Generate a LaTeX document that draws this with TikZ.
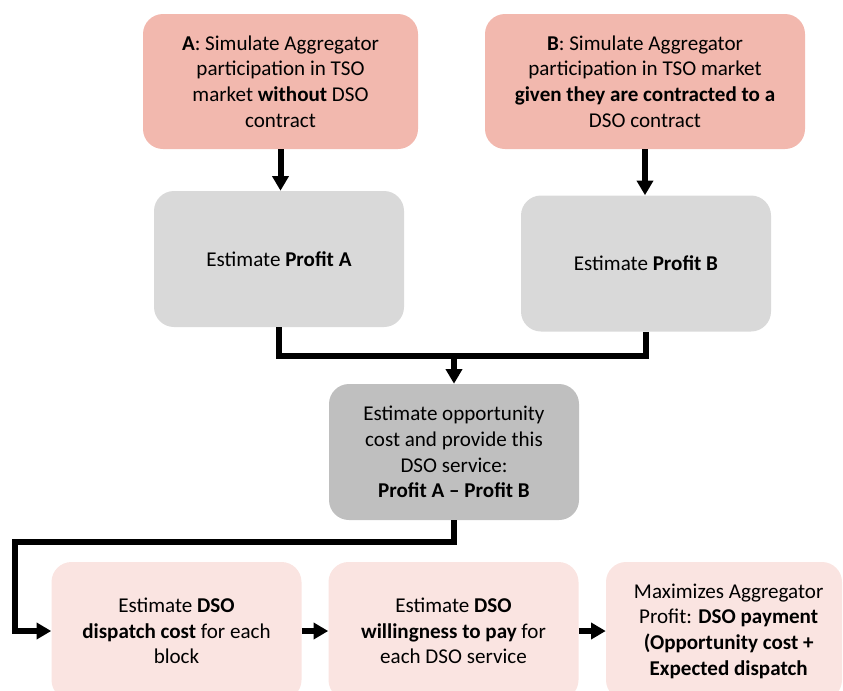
\documentclass[tikz,border=0pt]{standalone}
\usepackage{fontspec}
\setmainfont{Carlito}
\usetikzlibrary{arrows.meta}

\definecolor{salmon}{RGB}{242,184,174}
\definecolor{lightgrey}{RGB}{217,217,217}
\definecolor{midgrey}{RGB}{191,191,191}
\definecolor{blush}{RGB}{250,228,225}

\begin{document}
\begin{tikzpicture}[x = 0.75pt, y = -0.75pt,
    box/.style = {rounded corners = 15pt, align = center, inner sep = 0pt,
      font = \fontsize{15.8}{19.2}\selectfont, minimum width = 187.5pt, minimum height = 102pt},
    flow/.style = {line width = 4.5pt, -{Triangle[width = 12pt, length = 11pt]}},
    wire/.style = {line width = 4.5pt}]
    \useasboundingbox (0,0) rectangle (843,690);
    % simulations
    \node[box, fill = salmon, minimum width = 206.25pt, minimum height = 101.25pt] (simA) at (280.5,81.5)
      {\textbf{A}: Simulate Aggregator\\participation in TSO\\market \textbf{without} DSO\\contract};
    \node[box, fill = salmon, minimum width = 240pt, minimum height = 101.25pt] (simB) at (645,81.5)
      {\textbf{B}: Simulate Aggregator\\participation in TSO market\\\textbf{given they are contracted to a}\\DSO contract};
    % profits
    \node[box, fill = lightgrey] (profA) at (279,259) {Estimate \textbf{Profit A}};
    \node[box, fill = lightgrey] (profB) at (646,263.5) {Estimate \textbf{Profit B}};
    \node[box, fill = midgrey] (opp) at (454,452)
      {Estimate opportunity\\cost and provide this\\DSO service:\\\textbf{Profit A -- Profit B}};
    % bottom row
    \node[box, fill = blush, minimum height = 103.5pt] (disp) at (176.5,631)
      {Estimate \textbf{DSO}\\\textbf{dispatch cost} for each\\block};
    \node[box, fill = blush, minimum height = 103.5pt] (will) at (453.5,631)
      {Estimate \textbf{DSO}\\\textbf{willingness to pay} for\\each DSO service};
    \node[box, fill = blush, minimum width = 177pt, minimum height = 103.5pt] (pay) at (724,631)
      {\hspace*{7pt}Maximizes Aggregator\\\hspace*{7pt}Profit: \textbf{DSO payment}\\\hspace*{7pt}\textbf{(Opportunity cost +}\\\hspace*{7pt}\textbf{Expected dispatch}};
    \coordinate (join) at (454,356);
    \coordinate (bend) at (15,542);
    \draw[flow] (simA.south) -- (simA.south |- profA.north);
    \draw[flow] (simB.south) -- (simB.south |- profB.north);
    \draw[wire] (profA.south) |- (join);
    \draw[wire] (profB.south) |- (join);
    \draw[flow] (join) -- (opp.north);
    \draw[flow] (opp.south) |- (bend) |- (disp.west);
    \draw[flow] (disp) -- (will);
    \draw[flow] (will) -- (pay);
\end{tikzpicture}
\end{document}
